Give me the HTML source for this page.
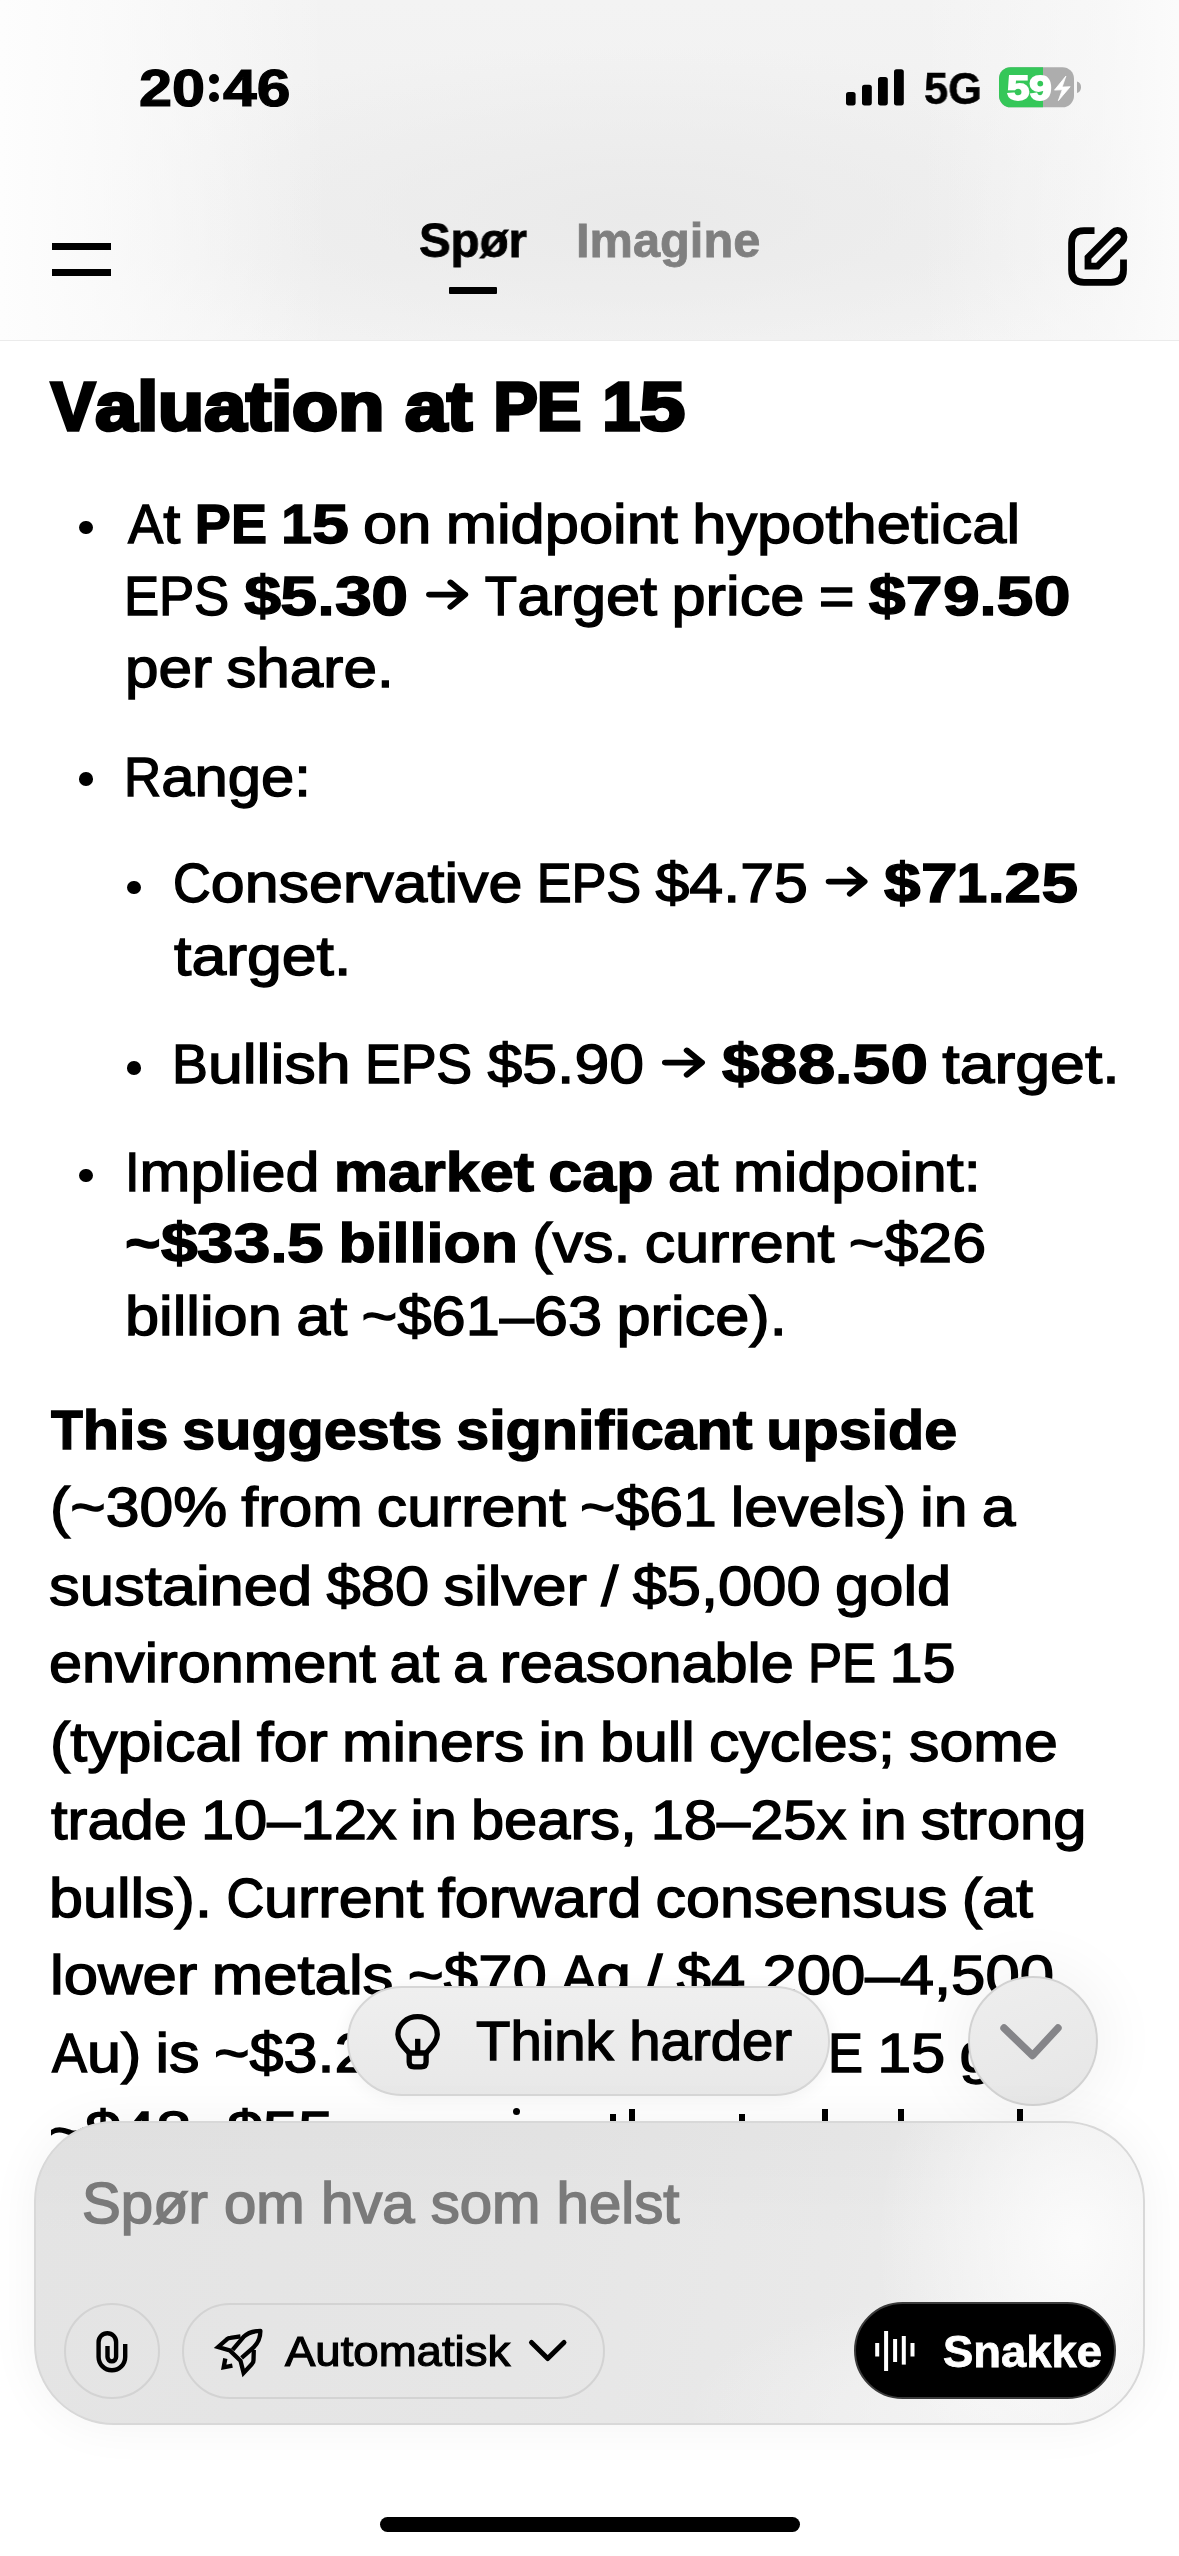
<!DOCTYPE html>
<html><head><meta charset="utf-8">
<style>
html,body{margin:0;padding:0;}
body{width:1179px;height:2556px;overflow:hidden;position:relative;background:#fff;font-family:"Liberation Sans",sans-serif;color:#000;}
.t{position:absolute;white-space:nowrap;transform-origin:0 0;will-change:transform;}
.t b{font-weight:700;}
.arr{display:inline-block;vertical-align:baseline;}
.g{display:inline-block;transform-origin:0 0;}
.ws{word-spacing:-2.5px;}
.abs{position:absolute;}
#hdr{position:absolute;left:0;top:0;width:1179px;height:340px;
 background:
  linear-gradient(to right, rgba(253,253,253,1) 0px, rgba(253,253,253,0.75) 90px, rgba(253,253,253,0) 330px),
  linear-gradient(to left, rgba(251,251,251,1) 0px, rgba(251,251,251,0.55) 80px, rgba(251,251,251,0) 260px),
  radial-gradient(ellipse 560px 170px at 640px 215px, #eaeaea 0%, rgba(234,234,234,0) 100%),
  linear-gradient(to bottom, #f3f3f3 0px, #f1f1f1 150px, #f0f0f0 260px, #f3f3f3 340px);
 border-bottom:1px solid #ebebeb;}
.bul{position:absolute;width:13.6px;height:13.6px;border-radius:50%;background:#000;}
.sbul{position:absolute;width:13.6px;height:13.6px;border-radius:50%;background:#000;}
#tpill{position:absolute;left:347px;top:1986px;width:479px;height:106px;border-radius:55px;
 background:linear-gradient(180deg,#efefef,#e8e8e8);border:2px solid #d6d6d6;box-shadow:0 2px 18px rgba(0,0,0,0.06);}
#dbtn{position:absolute;left:968px;top:1976px;width:126px;height:126px;border-radius:50%;
 background:linear-gradient(160deg,#eeeeee,#e6e6e6);border:2px solid #d2d2d2;box-shadow:0 0 60px 10px rgba(0,0,0,0.05);}
#comp{position:absolute;left:34px;top:2121px;width:1107px;height:300px;border-radius:80px;
 background:
  radial-gradient(ellipse 200px 260px at 1040px 120px, rgba(252,252,252,0.95), rgba(252,252,252,0) 100%),
  radial-gradient(ellipse 300px 120px at 950px 290px, rgba(246,246,246,0.8), rgba(246,246,246,0) 100%),
  linear-gradient(180deg, rgba(0,0,0,0.02) 0%, rgba(0,0,0,0) 40%),
  linear-gradient(100deg,#e4e4e4 0%,#e6e6e6 45%,#e9e9e9 70%,#f0f0f0 100%);
 border:2px solid #d8d8d8;box-shadow:0 0 50px rgba(0,0,0,0.05);}
#attach{position:absolute;left:64px;top:2303px;width:92px;height:92px;border-radius:50%;border:2px solid #d3d3d3;}
#autop{position:absolute;left:182px;top:2303px;width:419px;height:92px;border-radius:48px;border:2px solid #d3d3d3;}
#snakke{position:absolute;left:854px;top:2302px;width:258px;height:93px;border-radius:49px;background:#000;border:2px solid #3b3b3b;}
#home{position:absolute;left:380px;top:2517px;width:420px;height:15px;border-radius:8px;background:#000;}
</style></head>
<body>
<div id="hdr"></div>
<!-- status bar -->
<div class="t" id="time" style="left:138.57px;top:55.70px;font-size:52px;line-height:65px;font-weight:700;-webkit-text-stroke:1.2px #000;transform:scaleX(1.1416)">20</div>
<div class="abs" style="left:208.6px;top:74.4px;width:10px;height:10px;border-radius:50%;background:#000"></div>
<div class="abs" style="left:208.6px;top:91.6px;width:10px;height:10px;border-radius:50%;background:#000"></div>
<div class="t" id="time2" style="left:223.00px;top:55.70px;font-size:52px;line-height:65px;font-weight:700;-webkit-text-stroke:1.2px #000;transform:scaleX(1.1650)">46</div>
<svg class="abs" style="left:840px;top:60px" width="70" height="52" viewBox="840 60 70 52">
 <rect x="846" y="91.9" width="9.6" height="13.5" rx="2.6" fill="#000"/>
 <rect x="862" y="84.8" width="9.8" height="20.6" rx="2.6" fill="#000"/>
 <rect x="878" y="77" width="9.8" height="28.4" rx="2.6" fill="#000"/>
 <rect x="894" y="69.2" width="9.8" height="36.2" rx="2.6" fill="#000"/>
</svg>
<div class="t" id="g5" style="left:924.04px;top:61.00px;font-size:44.5px;line-height:56px;font-weight:700;-webkit-text-stroke:0.5px #000;transform:scaleX(0.9761)">5G</div>
<svg class="abs" style="left:995px;top:62px" width="90" height="50" viewBox="995 62 90 50">
 <defs><clipPath id="bc"><rect x="999" y="67.2" width="75" height="40.1" rx="11.5"/></clipPath></defs>
 <g clip-path="url(#bc)">
  <rect x="999" y="67" width="75" height="41" fill="#adadad"/>
  <rect x="999" y="67" width="44" height="41" fill="#35c759"/>
 </g>
 <path d="M1077 81.6 Q1081 82.5 1081 87.3 Q1081 92 1077 93 Z" fill="#adadad"/>
 <path d="M1065.9 76.1 L1054.5 90.1 L1062.3 89.7 L1058.3 100.7 L1070.2 86.7 L1062.1 87.1 Z" fill="#fff" stroke="#fff" stroke-width="0.8" stroke-linejoin="round"/>
</svg>
<div class="t" id="bat" style="left:1006.54px;top:67.00px;font-size:34.5px;line-height:43px;font-weight:700;color:#fff;-webkit-text-stroke:1.8px #fff;transform:scaleX(1.1660)">59</div>
<!-- nav -->
<div class="abs" style="left:52px;top:243.3px;width:58.6px;height:6.7px;background:#000"></div>
<div class="abs" style="left:52px;top:269px;width:58.6px;height:6.7px;background:#000"></div>
<div class="t" id="spor" style="left:419.05px;top:209.90px;font-size:48.5px;line-height:61px;font-weight:700;-webkit-text-stroke:0.8px #000;transform:scaleX(0.9786)">Spør</div>
<div class="t" id="imag" style="left:576.49px;top:209.90px;font-size:48.5px;line-height:61px;font-weight:700;color:#7f7f7f;-webkit-text-stroke:0.8px #7f7f7f;transform:scaleX(1.0058)">Imagine</div>
<div class="abs" style="left:449px;top:287px;width:48.3px;height:7px;background:#000;border-radius:1px"></div>
<svg class="abs" style="left:1050px;top:210px" width="100" height="90" viewBox="0 0 100 90">
 <path d="M44.5 20.6 L34 20.6 Q21.6 20.6 21.6 33 L21.6 60 Q21.6 72.3 34 72.3 L61 72.3 Q73.5 72.3 73.5 60 L73.5 49.6" fill="none" stroke="#000" stroke-width="6.8"/>
 <path d="M38 56.1 L38 47.3 L62.9 22.4 A6.5 6.5 0 0 1 72.1 31.6 L47.6 56.1 Z" fill="none" stroke="#000" stroke-width="6.8" stroke-linejoin="miter"/>
</svg>

<!-- content -->
<div class="bul" style="left:79px;top:520.9px"></div>
<div class="bul" style="left:79px;top:772.3px"></div>
<div class="sbul" style="left:127px;top:880.9px"></div>
<div class="sbul" style="left:127px;top:1061.1px"></div>
<div class="bul" style="left:79px;top:1168.9px"></div>
<div class="t" id="h1" style="left:51.35px;top:363.50px;font-size:69px;line-height:86px;font-weight:700;-webkit-text-stroke:3.5px #000;transform:scaleX(1.0923)"><span class="g" style="transform:scaleX(0.88);margin-right:-5.52px">V</span>aluation at <span class="g" style="transform:scaleX(0.88);margin-right:-5.52px">P</span><span class="g" style="transform:scaleX(0.88);margin-right:-5.52px">E</span> <span class="g" style="transform:scaleX(0.9);margin-right:-3.84px">1</span><span class="g" style="transform:scaleX(1.08);margin-right:3.07px">5</span></div>
<div class="t ws" id="b1a" style="left:127.55px;top:488.90px;font-size:56.1px;line-height:70px;-webkit-text-stroke:1.4px #000;transform:scaleX(1.0950)"><span class="g" style="transform:scaleX(0.86);margin-right:-5.24px">A</span>t <b><span class="g" style="transform:scaleX(0.88);margin-right:-4.49px">P</span><span class="g" style="transform:scaleX(0.88);margin-right:-4.49px">E</span> <span class="g" style="transform:scaleX(0.9);margin-right:-3.12px">1</span><span class="g" style="transform:scaleX(1.08);margin-right:2.50px">5</span></b> on midpoint hypothetical</div>
<div class="t ws" id="b1b" style="left:124.18px;top:561.40px;font-size:56.1px;line-height:70px;-webkit-text-stroke:1.4px #000;transform:scaleX(1.0935)"><span class="g" style="transform:scaleX(0.86);margin-right:-5.24px">E</span><span class="g" style="transform:scaleX(0.86);margin-right:-5.24px">P</span><span class="g" style="transform:scaleX(0.86);margin-right:-5.24px">S</span> <b><span class="g" style="transform:scaleX(1.08);margin-right:2.50px">$</span><span class="g" style="transform:scaleX(1.08);margin-right:2.50px">5</span>.<span class="g" style="transform:scaleX(1.08);margin-right:2.50px">3</span><span class="g" style="transform:scaleX(1.08);margin-right:2.50px">0</span></b> <svg class="arr" width="44" height="41.2" viewBox="0 0 44 41.2"><path d="M6.05 20.6 L38.95 20.6 M25.6 8.4 L38.95 20.6 L25.6 32.8" fill="none" stroke="#000" stroke-width="5.6" stroke-linecap="round" stroke-linejoin="round"/></svg> <span class="g" style="transform:scaleX(0.86);margin-right:-4.80px">T</span>arget price = <b><span class="g" style="transform:scaleX(1.08);margin-right:2.50px">$</span><span class="g" style="transform:scaleX(1.08);margin-right:2.50px">7</span><span class="g" style="transform:scaleX(1.08);margin-right:2.50px">9</span>.<span class="g" style="transform:scaleX(1.08);margin-right:2.50px">5</span><span class="g" style="transform:scaleX(1.08);margin-right:2.50px">0</span></b></div>
<div class="t ws" id="b1c" style="left:125.16px;top:633.30px;font-size:56.1px;line-height:70px;-webkit-text-stroke:1.4px #000;transform:scaleX(1.0745)">per share.</div>
<div class="t ws" id="b2a" style="left:124.34px;top:741.50px;font-size:56.1px;line-height:70px;-webkit-text-stroke:1.4px #000;transform:scaleX(1.0658)"><span class="g" style="transform:scaleX(0.86);margin-right:-5.67px">R</span>ange:</div>
<div class="t ws" id="s1a" style="left:172.83px;top:848.40px;font-size:56.1px;line-height:70px;-webkit-text-stroke:1.4px #000;transform:scaleX(1.0856)"><span class="g" style="transform:scaleX(0.86);margin-right:-5.67px">C</span>onservative <span class="g" style="transform:scaleX(0.86);margin-right:-5.24px">E</span><span class="g" style="transform:scaleX(0.86);margin-right:-5.24px">P</span><span class="g" style="transform:scaleX(0.86);margin-right:-5.24px">S</span> $4.75 <svg class="arr" width="44" height="41.2" viewBox="0 0 44 41.2"><path d="M6.05 20.6 L38.95 20.6 M25.6 8.4 L38.95 20.6 L25.6 32.8" fill="none" stroke="#000" stroke-width="5.6" stroke-linecap="round" stroke-linejoin="round"/></svg> <b><span class="g" style="transform:scaleX(1.08);margin-right:2.50px">$</span><span class="g" style="transform:scaleX(1.08);margin-right:2.50px">7</span><span class="g" style="transform:scaleX(0.9);margin-right:-3.12px">1</span>.<span class="g" style="transform:scaleX(1.08);margin-right:2.50px">2</span><span class="g" style="transform:scaleX(1.08);margin-right:2.50px">5</span></b></div>
<div class="t ws" id="s1b" style="left:174.00px;top:920.70px;font-size:56.1px;line-height:70px;-webkit-text-stroke:1.4px #000;transform:scaleX(1.1150)">target.</div>
<div class="t ws" id="s2a" style="left:171.63px;top:1028.60px;font-size:56.1px;line-height:70px;-webkit-text-stroke:1.4px #000;transform:scaleX(1.1155)"><span class="g" style="transform:scaleX(0.86);margin-right:-5.24px">B</span>ullish <span class="g" style="transform:scaleX(0.86);margin-right:-5.24px">E</span><span class="g" style="transform:scaleX(0.86);margin-right:-5.24px">P</span><span class="g" style="transform:scaleX(0.86);margin-right:-5.24px">S</span> $5.90 <svg class="arr" width="44" height="41.2" viewBox="0 0 44 41.2"><path d="M6.05 20.6 L38.95 20.6 M25.6 8.4 L38.95 20.6 L25.6 32.8" fill="none" stroke="#000" stroke-width="5.6" stroke-linecap="round" stroke-linejoin="round"/></svg> <b><span class="g" style="transform:scaleX(1.08);margin-right:2.50px">$</span><span class="g" style="transform:scaleX(1.08);margin-right:2.50px">8</span><span class="g" style="transform:scaleX(1.08);margin-right:2.50px">8</span>.<span class="g" style="transform:scaleX(1.08);margin-right:2.50px">5</span><span class="g" style="transform:scaleX(1.08);margin-right:2.50px">0</span></b> target.</div>
<div class="t ws" id="b3a" style="left:125.34px;top:1136.50px;font-size:56.1px;line-height:70px;-webkit-text-stroke:1.4px #000;transform:scaleX(1.0887)"><span class="g" style="transform:scaleX(0.86);margin-right:-2.18px">I</span>mplied <b>market cap</b> at midpoint:</div>
<div class="t ws" id="b3b" style="left:125.37px;top:1207.70px;font-size:56.1px;line-height:70px;-webkit-text-stroke:1.4px #000;transform:scaleX(1.0874)"><b>~<span class="g" style="transform:scaleX(1.08);margin-right:2.50px">$</span><span class="g" style="transform:scaleX(1.08);margin-right:2.50px">3</span><span class="g" style="transform:scaleX(1.08);margin-right:2.50px">3</span>.<span class="g" style="transform:scaleX(1.08);margin-right:2.50px">5</span> billion</b> (vs. current ~$26</div>
<div class="t ws" id="b3c" style="left:125.41px;top:1280.70px;font-size:56.1px;line-height:70px;-webkit-text-stroke:1.4px #000;transform:scaleX(1.0934)">billion at ~$61–63 price).</div>
<div class="t ws" id="p1" style="left:50.68px;top:1394.80px;font-size:56.1px;line-height:70px;-webkit-text-stroke:1.4px #000;transform:scaleX(1.0562)"><b><span class="g" style="transform:scaleX(0.88);margin-right:-4.11px">T</span>his suggests significant upside</b></div>
<div class="t ws" id="p2" style="left:49.99px;top:1472.40px;font-size:56.1px;line-height:70px;-webkit-text-stroke:1.4px #000;transform:scaleX(1.0821)">(~30% from current ~$61 levels) in a</div>
<div class="t ws" id="p3" style="left:49.06px;top:1550.80px;font-size:56.1px;line-height:70px;-webkit-text-stroke:1.4px #000;transform:scaleX(1.0960)">sustained $80 silver / $5,000 gold</div>
<div class="t ws" id="p4" style="left:48.58px;top:1628.40px;font-size:56.1px;line-height:70px;-webkit-text-stroke:1.4px #000;transform:scaleX(1.0586)">environment at a reasonable <span class="g" style="transform:scaleX(0.86);margin-right:-5.24px">P</span><span class="g" style="transform:scaleX(0.86);margin-right:-5.24px">E</span> 15</div>
<div class="t ws" id="p5" style="left:49.99px;top:1706.80px;font-size:56.1px;line-height:70px;-webkit-text-stroke:1.4px #000;transform:scaleX(1.0841)">(typical for miners in bull cycles; some</div>
<div class="t ws" id="p6" style="left:50.70px;top:1784.90px;font-size:56.1px;line-height:70px;-webkit-text-stroke:1.4px #000;transform:scaleX(1.0636)">trade 10–12x in bears, 18–25x in strong</div>
<div class="t ws" id="p7" style="left:48.97px;top:1862.50px;font-size:56.1px;line-height:70px;-webkit-text-stroke:1.4px #000;transform:scaleX(1.0884)">bulls). <span class="g" style="transform:scaleX(0.86);margin-right:-5.67px">C</span>urrent forward consensus (at</div>
<div class="t ws" id="p8" style="left:49.86px;top:1940.10px;font-size:56.1px;line-height:70px;-webkit-text-stroke:1.4px #000;transform:scaleX(1.0995)">lower metals ~$70 <span class="g" style="transform:scaleX(0.86);margin-right:-5.24px">A</span>g / $4,200–4,500</div>
<div class="t ws" id="p9a" style="left:52.17px;top:2018.40px;font-size:56.1px;line-height:70px;-webkit-text-stroke:1.4px #000;transform:scaleX(1.0884)"><span class="g" style="transform:scaleX(0.86);margin-right:-5.24px">A</span>u) is ~$3.2</div>
<div class="t ws" id="p9b" style="left:828.34px;top:2018.40px;font-size:56.1px;line-height:70px;-webkit-text-stroke:1.4px #000;transform:scaleX(1.0884)"><span class="g" style="transform:scaleX(0.86);margin-right:-5.24px">E</span> 15 gi</div>
<div class="t ws" id="p10" style="left:85.08px;top:2096.00px;font-size:56.1px;line-height:70px;-webkit-text-stroke:1.4px #000;transform:scaleX(1.1372)">$48–$55</div>
<div class="t ws" id="p10t" style="left:48.86px;top:2096.00px;font-size:56.1px;line-height:70px;-webkit-text-stroke:1.4px #000;transform:scaleX(1.0884)">~</div>
<div class="abs" style="left:512.5px;top:2108px;width:7px;height:7px;border-radius:50%;background:#000"></div>
<div class="abs" style="left:609.7px;top:2114px;width:6.3px;height:12px;background:#000"></div>
<div class="abs" style="left:628.8px;top:2109.3px;width:6.3px;height:14px;background:#000"></div>
<div class="abs" style="left:739px;top:2114px;width:6.3px;height:12px;background:#000"></div>
<div class="abs" style="left:821.7px;top:2109.3px;width:6.3px;height:14px;background:#000"></div>
<div class="abs" style="left:898px;top:2109.3px;width:6.3px;height:14px;background:#000"></div>
<div class="abs" style="left:1016.8px;top:2109.3px;width:6.3px;height:14px;background:#000"></div>

<!-- floating -->
<div id="tpill"></div>
<svg class="abs" style="left:385px;top:2005px" width="70" height="70" viewBox="0 0 70 70">
 <path d="M24.2 48 C19 42 12.9 37 12.9 29.5 C12.9 19.5 21.6 11.7 32.6 11.7 C43.6 11.7 52.3 19.5 52.3 29.5 C52.3 37 46.3 42 41.1 48 Z" fill="none" stroke="#000" stroke-width="5.3" stroke-linejoin="round"/>
 <path d="M24.2 48 L24.2 57 Q24.2 61.9 29 61.9 L36.3 61.9 Q41.1 61.9 41.1 57 L41.1 48" fill="none" stroke="#000" stroke-width="5.3"/>
 <path d="M32.7 33.8 L32.7 48" stroke="#000" stroke-width="5.3"/>
</svg>
<div class="t" id="think" style="left:476.20px;top:2006.80px;font-size:54.8px;line-height:68px;font-weight:400;-webkit-text-stroke:1.4px #000;transform:scaleX(1.0272)">Think harder</div>
<div id="dbtn"></div>
<svg class="abs" style="left:990px;top:2010px" width="90" height="60" viewBox="990 2010 90 60">
 <path d="M1004 2028 L1032.5 2055.5 L1058 2028" fill="none" stroke="#858589" stroke-width="7.4" stroke-linecap="round" stroke-linejoin="round"/>
</svg>

<!-- composer -->
<div id="comp"></div>
<div class="t" id="ph" style="left:82.26px;top:2168.30px;font-size:56.8px;line-height:71px;font-weight:400;color:#7a7a7a;-webkit-text-stroke:1.6px #7a7a7a;transform:scaleX(1.0229)">Spør om hva som helst</div>
<div id="attach"></div>
<svg class="abs" style="left:85px;top:2320px" width="55" height="60" viewBox="0 0 55 60">
 <path d="M40.2 24 L40.2 37 A13.3 13.3 0 0 1 13.6 37 L13.6 22 A8.75 8.75 0 0 1 31.1 22 L31.1 37.1 A4.3 4.3 0 0 1 22.5 37.1 L22.5 26.1" fill="none" stroke="#000" stroke-width="4.4"/>
</svg>
<div id="autop"></div>
<svg class="abs" style="left:210px;top:2320px" width="60" height="60" viewBox="0 0 60 60">
 <path d="M22.6 29.8 L33.6 16.8 C38 12.5 44 11 50.4 10.9 C50.4 17 48 23 43.3 27.7 L31.6 37.9" fill="none" stroke="#000" stroke-width="4.3" stroke-linejoin="round"/>
 <path d="M30.5 16.3 L20.4 17.8 Q18.5 18 16.8 19.3 L8.1 27 L19.8 30.5 L30.5 40.8 L33.6 52.9 L41.7 44.3 Q43.5 42.5 43.5 40.2 L43.8 30" fill="none" stroke="#000" stroke-width="4.3" stroke-linejoin="miter"/>
 <path d="M15.3 38.5 L13.7 47.3 L22.4 45.6" fill="none" stroke="#000" stroke-width="4.3"/>
</svg>
<div class="t" id="auto" style="left:284.61px;top:2324.40px;font-size:43.3px;line-height:54px;font-weight:400;-webkit-text-stroke:1.2px #000;transform:scaleX(1.0517)">Automatisk</div>
<svg class="abs" style="left:520px;top:2330px" width="60" height="40" viewBox="520 2330 60 40">
 <path d="M531.5 2342.5 L547.7 2358.5 L564 2342.5" fill="none" stroke="#000" stroke-width="5" stroke-linecap="round" stroke-linejoin="round"/>
</svg>
<div id="snakke"></div>
<svg class="abs" style="left:870px;top:2325px" width="50" height="52" viewBox="870 2325 50 52">
 <g stroke="#fff" stroke-width="4">
  <path d="M877.2 2343 L877.2 2356.5"/>
  <path d="M886.1 2331 L886.1 2371"/>
  <path d="M895.1 2339 L895.1 2362"/>
  <path d="M903.8 2336 L903.8 2364.6"/>
  <path d="M912.5 2343 L912.5 2356.5"/>
 </g>
</svg>
<div class="t" id="snak" style="left:942.95px;top:2323.80px;font-size:44.2px;line-height:55px;font-weight:700;color:#fff;-webkit-text-stroke:0.8px #fff;transform:scaleX(1.0276)">Snakke</div>
<div id="home"></div>
</body></html>
